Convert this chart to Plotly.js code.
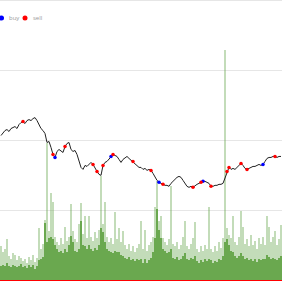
<!DOCTYPE html>
<html>
<head>
<meta charset="utf-8">
<script src="https://cdn.plot.ly/plotly-3.0.1.min.js"></script>
<style>html,body{margin:0;padding:0;background:#fff;}#chart{width:282px;height:282px;}</style>
</head>
<body>
<div id="chart"></div>
<script>
// Price series (one value per period)
var price = [122.5,124,125,125.5,124.5,126,126.5,127,126,128,129,129.5,128.5,130,130.5,130,131,131.5,130,127.5,
126,125,123.5,119,119.5,116.5,113,111.5,114.5,115.5,114.5,114,117,118.5,119,115.5,114.5,115,113,109.5,
106.5,105.5,107.5,107,108,109,108,106,104.5,103,102.5,107.5,109,109.5,110.5,112,113,112.5,112,110.5,
109,110.5,111.5,112,111,110,109.5,108.5,107.5,106.5,106.5,105.5,106,105,105.5,105,103.5,101.5,100,99,
98.5,98,97.5,97.5,97,98.5,99.5,101,101.5,102,101.5,100,98.5,97,96.5,97,96.5,97.5,98,98.5,
99,99.5,99.5,99,98.5,97,97,97.5,97.5,98,98,98.5,101.5,104.5,106.5,105.5,106,105.5,106.5,107.5,
108.5,107.5,106,105.5,106,106.5,107,107,107.5,108,107.5,108,109.5,111,111.5,111.5,112,112,111.5,112,112];

// Volume: total (light) and part (dark)
var volTotal = [0.48,0.40,0.45,0.58,0.35,0.30,0.38,0.36,0.28,0.34,0.32,0.27,0.30,0.25,0.33,0.29,0.36,0.26,0.31,0.74,
0.45,0.52,0.86,1.96,0.70,1.25,1.11,0.62,0.55,0.50,0.60,0.52,0.76,0.56,0.62,1.08,0.70,0.58,0.55,0.80,
1.10,0.66,0.91,0.60,0.92,0.62,0.56,0.68,0.60,0.72,1.48,0.80,1.11,0.62,0.55,0.60,0.52,0.97,0.58,0.75,
0.55,0.70,0.50,0.45,0.52,0.42,0.48,0.40,0.46,0.52,0.84,0.45,0.72,0.42,0.50,0.55,0.62,1.04,1.41,0.85,
0.91,0.60,0.55,0.50,0.58,1.34,0.52,0.48,0.55,0.45,0.50,0.62,0.84,0.48,0.44,0.52,0.60,0.83,0.45,0.40,
0.48,0.42,0.50,0.44,1.04,0.45,0.40,0.48,0.42,0.55,0.46,0.60,3.29,0.75,0.65,0.60,0.91,0.55,0.50,0.62,
0.98,0.76,0.52,0.58,0.48,0.65,0.50,0.56,0.45,0.60,0.52,0.62,0.50,0.91,0.76,0.55,0.62,0.70,0.50,0.58,0.78];
var volPart = [0.20,0.22,0.20,0.25,0.20,0.18,0.22,0.20,0.19,0.20,0.23,0.18,0.20,0.17,0.21,0.18,0.22,0.16,0.20,0.28,
0.30,0.33,0.82,0.55,0.60,0.62,0.58,0.50,0.45,0.40,0.42,0.38,0.45,0.40,0.50,0.63,0.55,0.42,0.40,0.45,
0.84,0.50,0.48,0.45,0.50,0.44,0.42,0.46,0.43,0.50,0.75,0.68,0.55,0.45,0.42,0.40,0.38,0.42,0.40,0.40,
0.36,0.35,0.32,0.30,0.33,0.28,0.30,0.27,0.30,0.28,0.30,0.25,0.30,0.24,0.28,0.32,0.40,0.60,1.01,0.72,
0.60,0.45,0.42,0.38,0.40,0.45,0.32,0.30,0.33,0.28,0.30,0.34,0.38,0.30,0.28,0.32,0.30,0.35,0.27,0.25,
0.28,0.26,0.30,0.27,0.30,0.28,0.25,0.27,0.26,0.30,0.28,0.35,0.55,0.58,0.50,0.42,0.40,0.35,0.32,0.35,
0.38,0.34,0.30,0.32,0.28,0.30,0.27,0.30,0.26,0.30,0.28,0.30,0.30,0.36,0.33,0.30,0.32,0.30,0.28,0.32,0.35];

// Trade signals (period indices)
var buyIdx = [27, 55, 79, 101, 131];
var sellIdx = [11, 26, 32, 46, 48, 51, 56, 66, 75, 81, 96, 100, 105, 113, 114, 120, 123, 137];

var legendLabels = ['buy', 'sell'];

var idx = price.map(function(_, i){ return i; });

var traces = [
  {type:'bar', x: idx, y: volTotal, marker:{color:'rgba(106,168,79,0.4)', line:{width:0}}, showlegend:false, hoverinfo:'skip'},
  {type:'bar', x: idx, y: volPart, marker:{color:'rgb(106,168,79)', line:{width:0}}, showlegend:false, hoverinfo:'skip'},
  {type:'scatter', mode:'lines', x: idx, y: price, yaxis:'y2', line:{color:'#222', width:1}, showlegend:false},
  {type:'scatter', mode:'markers', name: legendLabels[0], x: buyIdx, y: buyIdx.map(function(i){return price[i];}), yaxis:'y2',
   marker:{color:'#0000ff', size:3.5}, showlegend:false},
  {type:'scatter', mode:'markers', name: legendLabels[1], x: sellIdx, y: sellIdx.map(function(i){return price[i];}), yaxis:'y2',
   marker:{color:'#ff0000', size:3.5}, showlegend:false}
];

var ly = 1 - 18/280;
var layout = {
  width: 282, height: 282,
  margin: {l:0, r:0, t:0, b:2, pad:0},
  paper_bgcolor:'#fff', plot_bgcolor:'#fff',
  barmode:'overlay', bargap:0,
  showlegend:false,
  xaxis:{range:[-0.5, 140.5], showgrid:false, zeroline:false, showticklabels:false, ticks:''},
  yaxis:{range:[0,4], dtick:1, showgrid:true, gridcolor:'#e6e6e6', gridwidth:1, showticklabels:false, ticks:'',
         zeroline:true, zerolinecolor:'#ff0000', zerolinewidth:2},
  yaxis2:{range:[50,190.5], overlaying:'y', showgrid:false, zeroline:false, showticklabels:false, ticks:''},
  shapes:[
    {type:'line', xref:'paper', yref:'paper', x0:0, x1:1, y0:1, y1:1, line:{color:'#e6e6e6', width:2}},
    {type:'circle', xref:'paper', yref:'paper', x0:-1/282, x1:4/282, y0:ly-2.5/280, y1:ly+2.5/280, fillcolor:'#0000ff', line:{width:0}},
    {type:'circle', xref:'paper', yref:'paper', x0:22.5/282, x1:27.5/282, y0:ly-2.5/280, y1:ly+2.5/280, fillcolor:'#ff0000', line:{width:0}}
  ],
  annotations:[
    {xref:'paper', yref:'paper', x:7/282, y:ly, xanchor:'left', yanchor:'middle', text:legendLabels[0], showarrow:false,
     font:{family:'Open Sans, sans-serif', size:6, color:'#999'}},
    {xref:'paper', yref:'paper', x:30.5/282, y:ly, xanchor:'left', yanchor:'middle', text:legendLabels[1], showarrow:false,
     font:{family:'Open Sans, sans-serif', size:6, color:'#999'}}
  ]
};

Plotly.newPlot('chart', traces, layout, {displayModeBar:false, staticPlot:true});
</script>
</body>
</html>
